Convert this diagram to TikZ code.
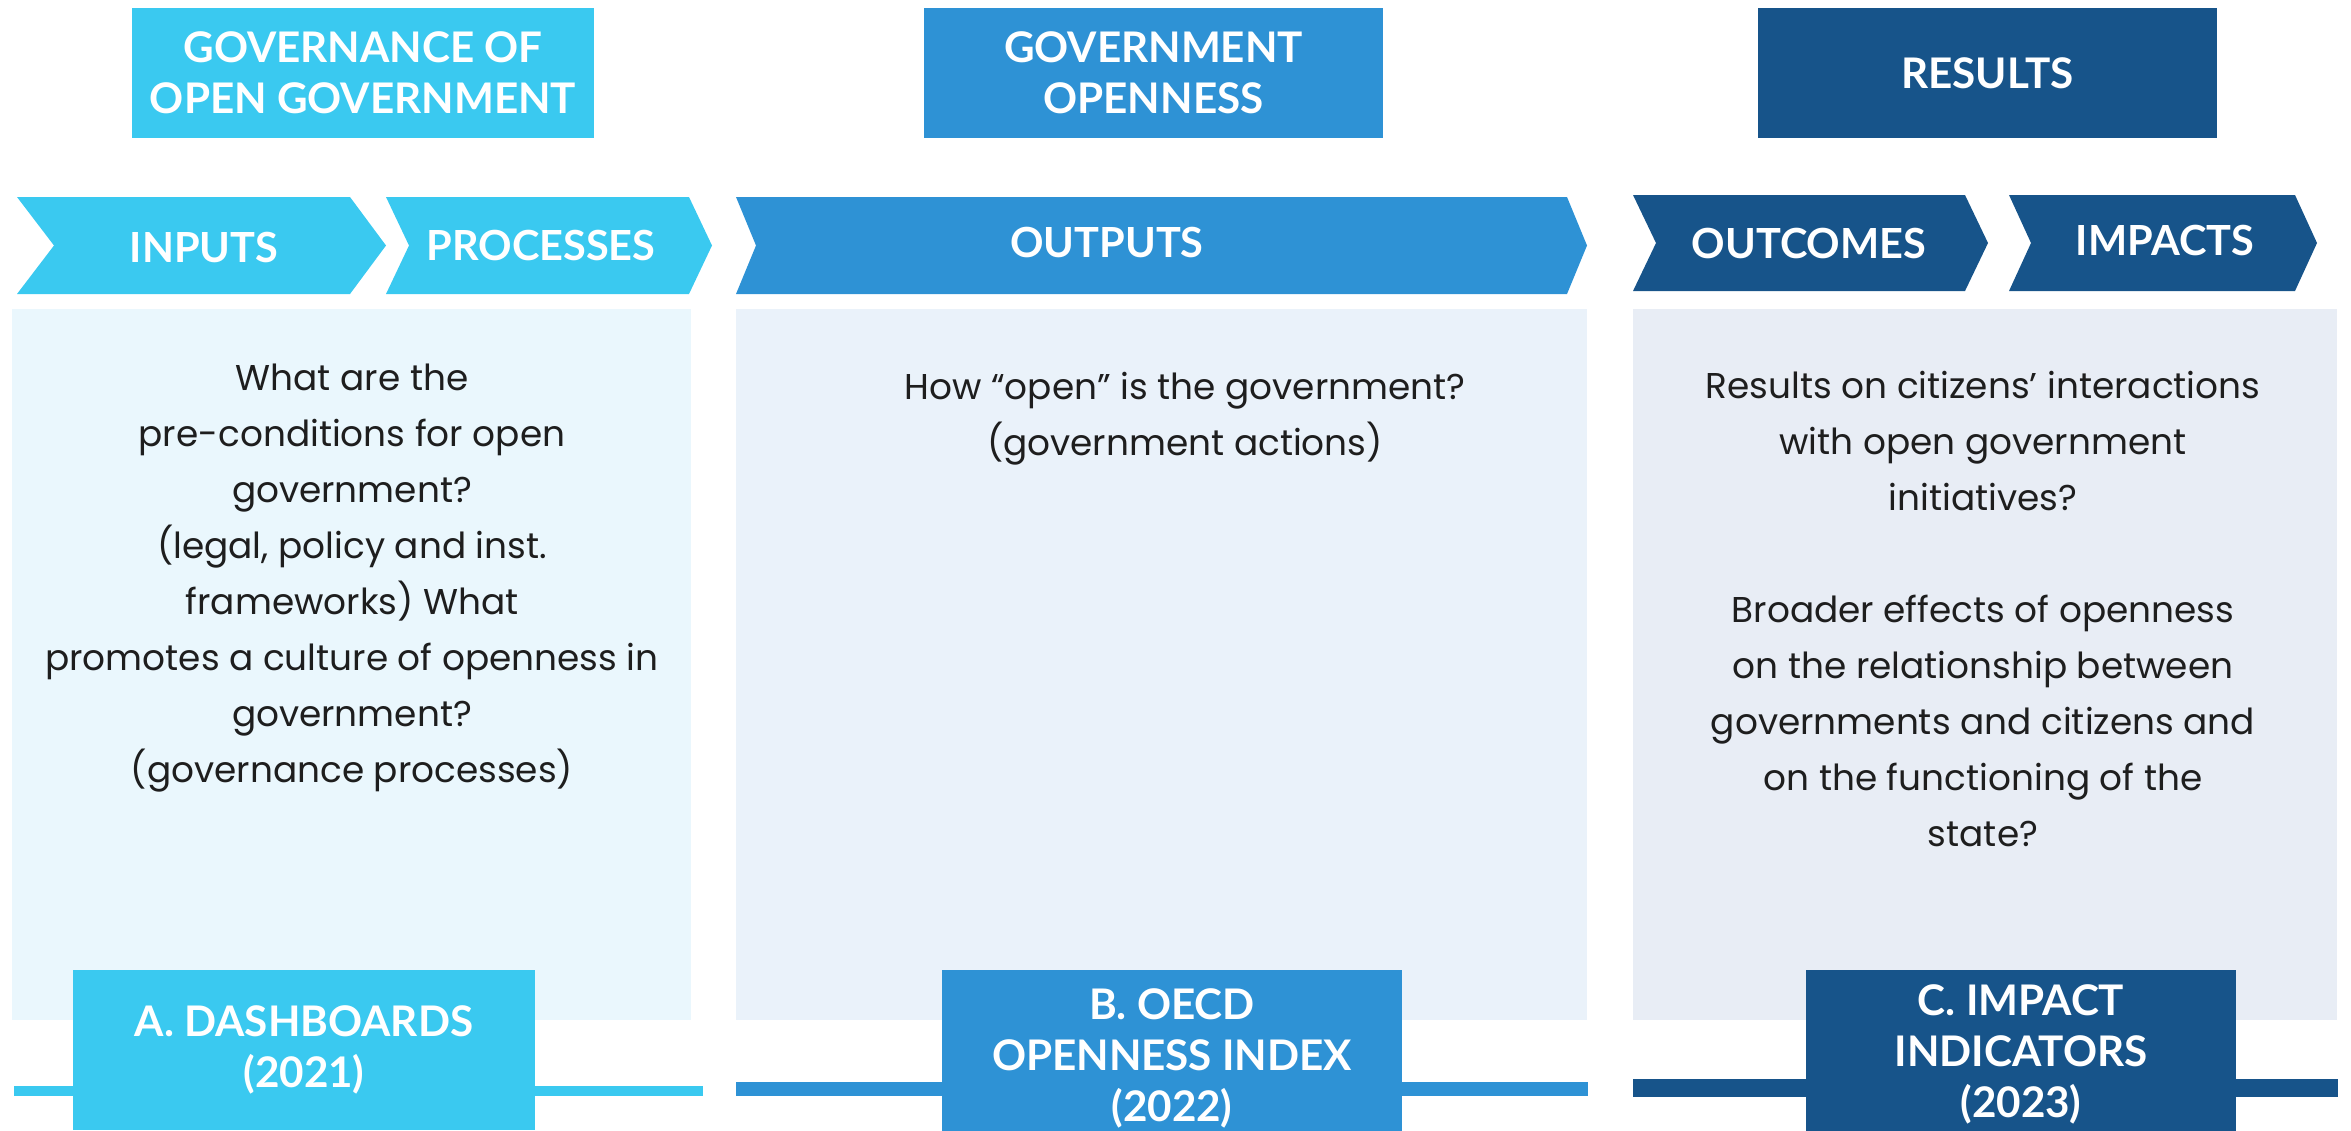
\documentclass[tikz,border=0pt]{standalone}
\usepackage{fontspec}
\setmainfont{Poppins}
\newfontfamily\headfont{Lato}
\usetikzlibrary{positioning}

\definecolor{skyblue}{RGB}{58,201,240}
\definecolor{midblue}{RGB}{46,146,213}
\definecolor{navyblue}{RGB}{23,84,138}
\definecolor{skypanel}{RGB}{234,247,253}
\definecolor{midpanel}{RGB}{234,242,250}
\definecolor{navypanel}{RGB}{232,237,245}
\definecolor{bodytext}{RGB}{30,30,30}

\tikzset{
  header/.style={fill=#1, text=white, align=center, inner sep=0pt,
    font=\headfont\bfseries\fontsize{12}{14.5}\selectfont},
  steplabel/.style={text=white, inner sep=0pt,
    font=\headfont\bfseries\fontsize{11.8}{14.5}\selectfont},
  question/.style={text=bodytext, align=center, inner sep=0pt,
    font=\fontsize{10.2}{15.9}\selectfont},
}

\begin{document}
\begin{tikzpicture}[x=0.01cm, y=-0.01cm]
\useasboundingbox (0,0) rectangle (2351,1130);

% three headings on top
\node[header=skyblue, minimum width=4.62cm, minimum height=1.3cm] (govbox) at (363,73) {GOVERNANCE OF\\OPEN GOVERNMENT};
\node[header=midblue, minimum width=4.59cm, minimum height=1.3cm] (openbox) at (1153.5,73) {GOVERNMENT\\OPENNESS};
\node[header=navyblue, minimum width=4.59cm, minimum height=1.3cm] (resbox) at (1987.5,73) {RESULTS};

% chevrons
\fill[skyblue] (17,197) -- (350,197) -- (386,245.5) -- (350,294) -- (17,294) -- (54,245.5) -- cycle;
\fill[skyblue] (386,197) -- (689,197) -- (712,245.5) -- (689,294) -- (386,294) -- (409,245.5) -- cycle;
\fill[midblue] (736,197) -- (1567,197) -- (1587,245.5) -- (1567,294) -- (736,294) -- (756,245.5) -- cycle;
\fill[navyblue] (1633,195) -- (1965,195) -- (1988,243) -- (1965,291) -- (1633,291) -- (1656,243) -- cycle;
\fill[navyblue] (2009,195) -- (2295,195) -- (2317,243) -- (2295,291) -- (2009,291) -- (2031,243) -- cycle;
\node[steplabel] (inputs) at (204,247) {INPUTS};
\node[steplabel] (processes) at (541,245) {PROCESSES};
\node[steplabel] (outputs) at (1107,242) {OUTPUTS};
\node[steplabel] (outcomes) at (1809,243) {OUTCOMES};
\node[steplabel] (impacts) at (2165,240) {IMPACTS};

% panels
\fill[skypanel] (12,309) rectangle (691,1020);
\fill[midpanel] (736,309) rectangle (1587,1020);
\fill[navypanel] (1633,309) rectangle (2337,1020);

\node[question] (govq) at (352,578) {What are the\\pre-conditions for open\\government?\\(legal, policy and inst.\\frameworks) What\\promotes a culture of openness in\\government?\\(governance processes)};
\node[question] (openq) at (1185,419) {How “open” is the government?\\(government actions)};
\node[question] (resq) at (1983,609) {Results on citizens’ interactions\\with open government\\initiatives?\\[15.9pt]Broader effects of openness\\on the relationship between\\governments and citizens and\\on the functioning of the\\state?};

% bottom bars and tools
\fill[skyblue] (14,1086) rectangle (703,1096);
\fill[midblue] (736,1082) rectangle (1588,1096);
\fill[navyblue] (1633,1079) rectangle (2338,1097);

\node[header=skyblue, minimum width=4.61cm, minimum height=1.6cm] (dash) at (304,1050) {A. DASHBOARDS\\(2021)};
\node[header=midblue, minimum width=4.60cm, minimum height=1.76cm] (index) at (1172,1058) {B. OECD\\OPENNESS INDEX\\(2022)};
\node[header=navyblue, minimum width=4.30cm, minimum height=1.68cm] (impact) at (2021,1054) {C. IMPACT\\INDICATORS\\(2023)};
\end{tikzpicture}
\end{document}
